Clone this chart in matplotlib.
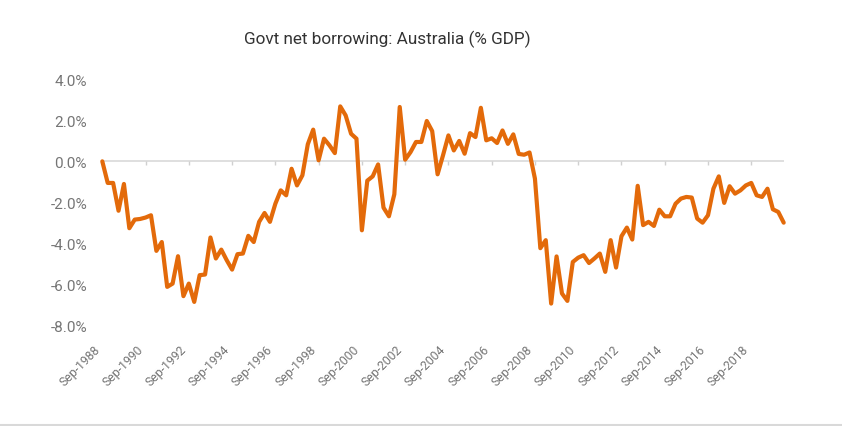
import matplotlib
matplotlib.use("Agg")
import matplotlib.pyplot as plt
from matplotlib.lines import Line2D
import pandas as pd

plt.rcParams['font.family'] = ['Roboto', 'DejaVu Sans']

title = "Govt net borrowing: Australia (% GDP)"

# Quarterly categories, Sep-1988 .. Mar-2020
quarters = pd.period_range("1988Q3", "2020Q1", freq="Q")

values = [
    0.0, -1.05, -1.05, -2.4, -1.1, -3.25, -2.83, -2.8, -2.73, -2.62,
    -4.35, -3.92, -6.1, -5.94, -4.61, -6.55, -5.94, -6.83, -5.53, -5.5,
    -3.7, -4.72, -4.29, -4.8, -5.26, -4.51, -4.48, -3.62, -3.92, -2.94,
    -2.51, -2.94, -2.06, -1.41, -1.65, -0.36, -1.17, -0.68, 0.83, 1.54,
    0.05, 1.1, 0.78, 0.4, 2.67, 2.23, 1.34, 1.1, -3.35, -0.94,
    -0.73, -0.15, -2.25, -2.67, -1.6, 2.64, 0.08, 0.45, 0.94, 0.94,
    1.96, 1.47, -0.63, 0.29, 1.26, 0.53, 0.99, 0.37, 1.37, 1.18,
    2.6, 1.02, 1.12, 0.89, 1.5, 0.85, 1.31, 0.36, 0.32, 0.43,
    -0.84, -4.22, -3.83, -6.91, -4.62, -6.42, -6.78, -4.89, -4.68, -4.56,
    -4.94, -4.72, -4.48, -5.37, -3.83, -5.16, -3.64, -3.22, -3.8, -1.19,
    -3.1, -2.94, -3.14, -2.35, -2.67, -2.67, -2.06, -1.81, -1.73, -1.76,
    -2.78, -2.98, -2.62, -1.33, -0.73, -2.02, -1.21, -1.57, -1.41, -1.17,
    -1.05, -1.65, -1.73, -1.33, -2.33, -2.46, -2.98,
]

tick_labels = ["Sep-1988", "Sep-1990", "Sep-1992", "Sep-1994", "Sep-1996",
               "Sep-1998", "Sep-2000", "Sep-2002", "Sep-2004", "Sep-2006",
               "Sep-2008", "Sep-2010", "Sep-2012", "Sep-2014", "Sep-2016",
               "Sep-2018"]
y_ticks = [4, 2, 0, -2, -4, -6, -8]

W, H = 842, 427
fig = plt.figure(figsize=(W / 100, H / 100), dpi=100)
left, right, top, bottom = 102.3, 783.7, 80, 327
ax = fig.add_axes([left / W, 1 - bottom / H, (right - left) / W, (bottom - top) / H])

x = list(range(len(quarters)))
ax.axhline(0, color="#d9d9d9", lw=1.2, zorder=1)
tick_pos = [i * 8 for i in range(len(tick_labels))]
ax.vlines(tick_pos, -0.18, 0, color="#d0d0d0", lw=1.0, zorder=1)
ax.plot(x, values, color="#e36a0a", lw=3.0, solid_joinstyle="round",
        solid_capstyle="round", clip_on=False, zorder=3)

ax.set_xlim(0, len(quarters) - 1)
ax.set_ylim(-8, 4)
ax.set_yticks(y_ticks)
ax.set_yticklabels([f"{v:.1f}%" for v in y_ticks])
ax.set_xticks(tick_pos)
ax.set_xticklabels(tick_labels, rotation=45, ha="right")
ax.tick_params(axis="y", length=0, pad=11, labelsize=11, labelcolor="#757575")
ax.tick_params(axis="x", length=0, pad=12, labelsize=8.8, labelcolor="#757575")
for s in ax.spines.values():
    s.set_visible(False)

fig.text(387.5 / W, 1 - 39 / H, title, ha="center", va="center",
         fontsize=12.3, color="#333333")

fig.add_artist(Line2D([0, 1], [1 - 425.5 / H, 1 - 425.5 / H],
                      transform=fig.transFigure, color="#d9d9d9", lw=1.5))

fig.savefig("out.png", dpi=100)
